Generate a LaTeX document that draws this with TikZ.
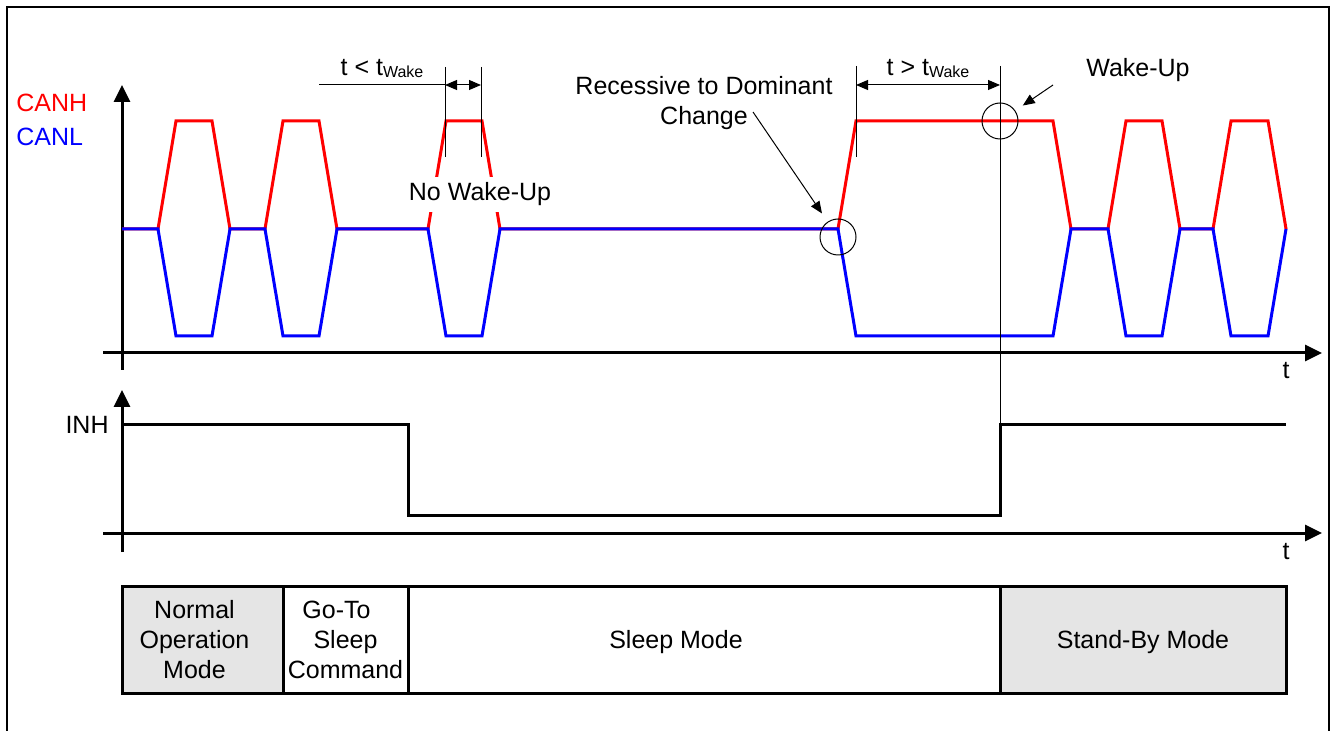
\documentclass[tikz,border=0pt]{standalone}
\usepackage{fontspec}
\setmainfont{Liberation Sans}
\usetikzlibrary{arrows.meta,positioning,calc}
\newcommand{\twake}[1]{t #1 t\raisebox{-1pt}{\fontsize{8}{9}\selectfont Wake}}

\begin{document}
\begin{tikzpicture}[x=0.5pt, y=-0.5pt,
  lbl/.style={font=\fontsize{12.5}{15}\selectfont, inner sep=0pt, anchor=base},
  axis/.style={line width=1.5pt, -{Triangle[length=8.5pt,width=8pt]}},
  canh/.style={line width=1.5pt, red},
  canl/.style={line width=1.5pt, blue},
  inhline/.style={line width=1.5pt},
  tick/.style={line width=0.5pt},
  dim/.style={line width=0.5pt, {Triangle[length=6pt,width=5pt]}-{Triangle[length=6pt,width=5pt]}},
  note/.style={line width=0.5pt, -{Triangle[length=6pt,width=5pt]}},
  ring/.style={circle, draw, line width=0.5pt, minimum size=18pt, inner sep=0pt},
  modebox/.style={rectangle, draw, line width=1.5pt, minimum height=53.5pt, outer sep=0pt, inner sep=0pt},
  modetxt/.style={align=center, inner sep=0pt, font=\fontsize{12.5}{15}\selectfont},
  >=Stealth
]
\useasboundingbox (0,0) rectangle (1331,731);
\draw[line width=1pt] (7,760) -- (7,7) -- (1329,7) -- (1329,760);

% axes
\coordinate (y1b) at (122,370);
\coordinate (y1t) at (122,85);
\coordinate (x1l) at (103,353);
\coordinate (x1r) at (1322,353);
\coordinate (y2b) at (122,552);
\coordinate (y2t) at (122,390);
\coordinate (x2l) at (103,533);
\coordinate (x2r) at (1322,533);
\draw[axis] (y1b) -- (y1t);
\draw[axis] (x1l) -- (x1r);
\draw[axis] (y2b) -- (y2t);
\draw[axis] (x2l) -- (x2r);

\node[lbl, red, anchor=base west] (canhlbl) at (16,112) {CANH};
\node[lbl, blue, anchor=base west] (canllbl) at (16,146) {CANL};
\node[lbl, anchor=base east] (inhlbl) at (109,433) {INH};
\node[lbl] (t1) at (1286,379) {t};
\node[lbl] (t2) at (1286,559) {t};

% bus signals
\draw[canh] (122,229) foreach \a/\w in {158/36,265/36,428/36,838/197,1108/36,1213/37}
  { -- (\a,229) -- (\a+18,121) -- (\a+18+\w,121) -- (\a+36+\w,229) };
\draw[canl] (122,229) foreach \a/\w in {158/36,265/36,428/36,838/197,1108/36,1213/37}
  { -- (\a,229) -- (\a+18,336) -- (\a+18+\w,336) -- (\a+36+\w,229) };

% INH
\draw[inhline] (122,425) -- (408,425) -- (408,515) -- (1000,515) -- (1000,425) -- (1286,425);

% timing marks
\draw[tick] (445,67) -- (445,157);
\draw[tick] (481,67) -- (481,157);
\draw[tick] (856,66) -- (856,157);
\draw[tick] (1000,66) -- (1000,425);
\coordinate (sa) at (445,85);
\coordinate (sb) at (481,85);
\coordinate (la) at (856,85);
\coordinate (lb) at (1000,85);
\coordinate (lead) at (319,85);
\draw[tick] (lead) -- (sa);
\draw[dim] (sa) -- (sb);
\draw[dim] (la) -- (lb);
\node[lbl] (shortlbl) at (382,76) {\twake{<}};
\node[lbl] (longlbl) at (928,76) {\twake{>}};

\node[lbl, fill=white, inner sep=3pt] (nowake) at (480,201) {No Wake-Up};

% circled events
\node[ring] (rdc) at (838,237) {};
\node[ring] (wake) at (1000,121) {};
\node[lbl, align=center] (rdclbl) at (704,125) {Recessive to Dominant\\Change};
\node[lbl] (wakelbl) at (1138,77) {Wake-Up};
\coordinate (rdcfrom) at (753,112);
\coordinate (wakefrom) at (1053,85);
\draw[note, shorten >=5pt] (rdcfrom) -- (rdc);
\draw[note, shorten >=4.5pt] (wakefrom) -- (wake);

% modes
\node[modebox, fill=gray!20, minimum width=80.5pt, anchor=north west,
  label={[modetxt, xshift=-4pt]center:{Normal\\Operation\\Mode}}] (normal) at (122,586) {};
\node[modebox, minimum width=62.5pt, right=0pt of normal,
  label={[modetxt]center:{Go-To\hspace*{9pt}\\Sleep\hspace*{9pt}\\Command}}] (gotosleep) {};
\node[modebox, minimum width=296pt, right=0pt of gotosleep,
  label={[modetxt, xshift=-14pt, yshift=-1.5pt]center:Sleep Mode}] (sleep) {};
\node[modebox, fill=gray!20, minimum width=143pt, right=0pt of sleep,
  label={[modetxt, yshift=-1.5pt]center:Stand-By Mode}] (standby) {};
\end{tikzpicture}
\end{document}
